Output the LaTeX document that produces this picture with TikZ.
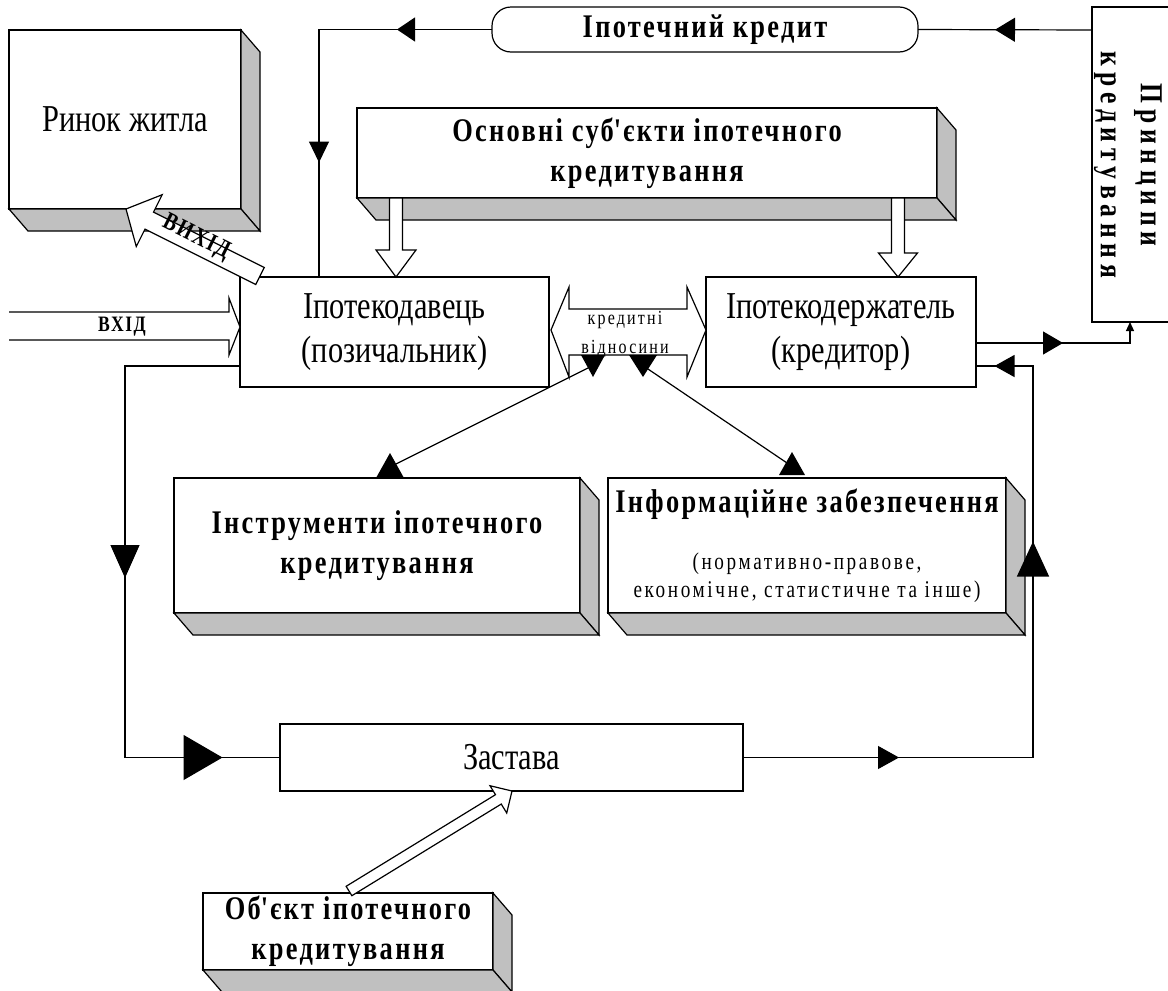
\documentclass[tikz,border=0pt]{standalone}
\usepackage{fontspec}
\setmainfont{Liberation Serif}[FakeStretch=0.8]
\newfontfamily\spfont{Liberation Serif}[FakeStretch=0.8,LetterSpace=11]
\newfontfamily\bspfont{Liberation Serif}[FakeStretch=0.8,LetterSpace=7]
\newfontfamily\wfont{Liberation Serif}[FakeStretch=0.8,LetterSpace=18]
\usetikzlibrary{arrows.meta,decorations.markings,calc}
\definecolor{boxgray}{RGB}{192,192,192}
\newcommand\faces[1]{%
  \filldraw[fill=boxgray] (#1.north east) -- ($(#1.north east)+(19,22)$) -- ($(#1.south east)+(19,22)$) -- (#1.south east) -- cycle;
  \filldraw[fill=boxgray] (#1.south west) -- ($(#1.south west)+(19,22)$) -- ($(#1.south east)+(19,22)$) -- (#1.south east) -- cycle;}
\newcommand\blockarrow[5]{%
  \coordinate (bah) at ($(#2)!#5!(#1)$);
  \filldraw[fill=white] ($(#1)!#3!90:(#2)$) -- ($(bah)!#3!90:(#2)$) -- ($(bah)!#4!90:(#2)$) -- (#2) -- ($(bah)!#4!-90:(#2)$) -- ($(bah)!#3!-90:(#2)$) -- ($(#1)!#3!-90:(#2)$) -- cycle;}
\begin{document}
\begin{tikzpicture}[x=1pt,y=-1pt, line width=1.2pt, line join=miter,
  box/.style={draw, fill=white, inner sep=0pt, outer sep=0pt, align=center},
  big/.style={font=\fontsize{38}{44}\selectfont},
  bsp/.style={font=\bspfont\bfseries\fontsize{33}{40}\selectfont},
  conn/.style={draw, postaction={decorate}}]
\useasboundingbox (0,0) rectangle (1168,991);

% boxes
\node[box, big, minimum width=232pt, minimum height=179pt] (rynok) at (125,119.5) {Ринок житла};
\node[box, bsp, rounded corners=19pt, minimum width=426pt, minimum height=45pt] (ipkr) at (705,29.5) {Іпотечний кредит};
\node[box, minimum width=90pt, minimum height=315pt] (pryn) at (1137,164.5) {};
\node[rotate=-90, align=center, font=\wfont\bfseries\fontsize{32}{40}\selectfont] (pryntext) at (1128,165) {Принципи\\кредитування};
\node[box, bsp, minimum width=580pt, minimum height=90pt] (osn) at (647,153) {Основні суб\textquotesingle єкти іпотечного\\кредитування};
\node[box, big, minimum width=309pt, minimum height=110pt] (dav) at (394.5,332) {Іпотекодавець\\(позичальник)};
\node[box, big, minimum width=270pt, minimum height=110pt] (derzh) at (841,332) {Іпотекодержатель\\(кредитор)};
\node[box, bsp, minimum width=406pt, minimum height=135pt] (instr) at (377,545.5) {Інструменти іпотечного\\кредитування};
\node[box, minimum width=398pt, minimum height=135pt, font=\spfont\fontsize{24}{28}\selectfont] (inf) at (807,545.5) {{\bspfont\bfseries\fontsize{33}{36}\selectfont Інформаційне забезпечення}\\[29pt](нормативно-правове,\\економічне, статистичне та інше)};
\node[box, big, minimum width=463pt, minimum height=67pt] (zast) at (511.5,757.5) {Застава};
\node[box, bsp, minimum width=290pt, minimum height=77pt] (obj) at (348,931.5) {Об\textquotesingle єкт іпотечного\\кредитування};

% 3D faces
\faces{rynok}
\faces{osn}
\faces{instr}
\faces{inf}
\faces{obj}

% block arrows
\blockarrow{$(osn.south west)+(39,0)$}{$(dav.north west)+(156,0)$}{6.5pt}{20pt}{27pt}
\blockarrow{$(osn.south east)+(-39,0)$}{$(derzh.north west)+(192,0)$}{6.5pt}{19.5pt}{24pt}
\blockarrow{$(dav.north west)+(20,-1)$}{$(rynok.south)+(1,0)$}{9.5pt}{29pt}{26pt}
\blockarrow{$(obj.north)+(1,-2)$}{$(zast.south)+(0.5,0)$}{5.5pt}{16pt}{16pt}
\node[rotate=-26.6, font=\bspfont\bfseries\fontsize{25}{26}\selectfont] (vyhid) at (196,238) {ВИХІД};

% connectors
\draw[conn, decoration={markings, mark=at position 97pt with {\arrow{Triangle[length=20pt,width=24pt]}}}]
  ($(pryn.north west)+(0,23)$) -- (ipkr.east);
\draw[conn, decoration={markings,
   mark=at position 95pt with {\arrow{Triangle[length=18pt,width=24pt]}},
   mark=at position 306pt with {\arrow{Triangle[length=21pt,width=20pt]}}}]
  (ipkr.west) -| ($(dav.north west)+(79,0)$);
\draw[conn, -{Triangle[length=9pt,width=8pt]}, decoration={markings, mark=at position 87pt with {\arrow{Triangle[length=20pt,width=23pt]}}}]
  ($(derzh.east)+(0,11)$) -| ($(pryn.south west)+(38,0)$);
\draw[conn, decoration={markings,
   mark=at position 156pt with {\arrow{Triangle[length=21pt,width=23pt]}},
   mark=at position 506pt with {\arrow{Triangle[length=35pt,width=32pt]}},
   mark=at position 720pt with {\arrow{Triangle[length=20pt,width=22pt]}}}]
  (zast.east) -- ++(290,0) |- ($(derzh.east)+(0,34)$);
\draw[conn, decoration={markings,
   mark=at position 327pt with {\arrow{Triangle[length=33pt,width=29pt]}},
   mark=at position 604pt with {\arrow{Triangle[length=39pt,width=45pt]}}}]
  ($(dav.west)+(0,34)$) -- ++(-115,0) |- (zast.west);

% input block arrow
\coordinate (vin) at ($(dav.west)+(0,-5)$);
\draw[fill=white] ($(vin)+(-231,-15)$) -- ($(vin)+(-11,-15)$) -- ($(vin)+(-11,-29)$) -- (vin) -- ($(vin)+(-11,28)$) -- ($(vin)+(-11,13)$) -- ($(vin)+(-231,13)$);
\node[font=\bspfont\bfseries\fontsize{22}{24}\selectfont] (vhid) at (122,327) {ВХІД};

% credit relations double arrow
\coordinate (cl) at ($(dav.east)+(2,-2)$);
\coordinate (cr) at ($(derzh.west)+(0,-2)$);
\draw[fill=white] (cl) -- ($(cl)+(18,-43)$) -- ($(cl)+(18,-21)$) -- ($(cr)+(-19,-21)$) -- ($(cr)+(-19,-43)$) -- (cr)
  -- ($(cr)+(-19,47)$) -- ($(cr)+(-19,25)$) -- ($(cl)+(18,25)$) -- ($(cl)+(18,47)$) -- cycle;
\node[align=center, font=\spfont\fontsize{20}{29}\selectfont] (kredv) at (625,334) {кредитні\\відносини};

% links to instruments and information
\coordinate (k1) at (593,377);
\coordinate (k2) at (643,377);
\coordinate (i1) at ($(instr.north)+(13,0)$);
\coordinate (f1) at ($(inf.north)+(-15,-3)$);
\draw ($(i1)+(0,-11)$) -- ($(k1)+(-3,-10)$);
\draw ($(k2)+(2,-10)$) -- ($(f1)+(-2,-10)$);
\fill (k1) -- ++(-12,-22) -- ++(24,0) -- cycle;
\fill (k2) -- ++(-14,-22) -- ++(28,0) -- cycle;
\fill ($(i1)+(0,-25)$) -- ++(-14,25) -- ++(28,0) -- cycle;
\fill ($(f1)+(0,-23)$) -- ++(-13,23) -- ++(26,0) -- cycle;
\end{tikzpicture}
\end{document}
